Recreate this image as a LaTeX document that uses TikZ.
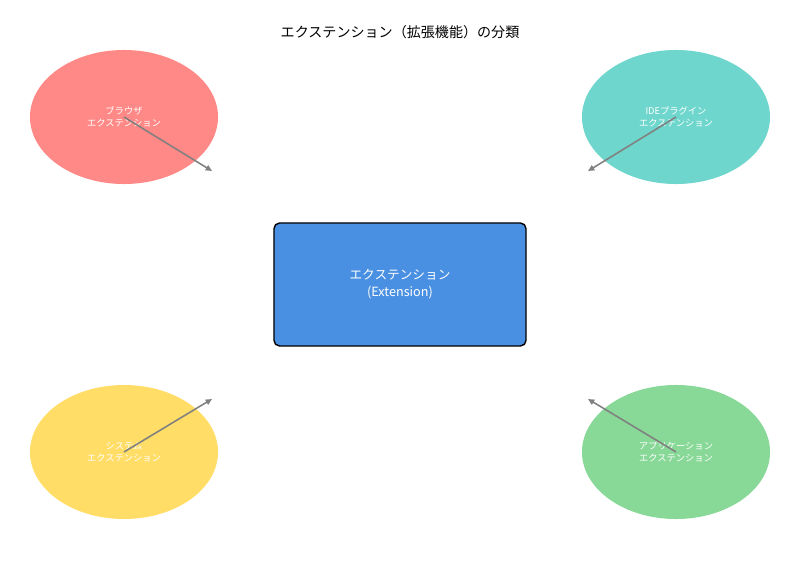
\documentclass[tikz,border=0pt]{standalone}
\usepackage{fontspec}
\setmainfont{Noto Sans CJK JP}
\usetikzlibrary{shapes.geometric,arrows.meta}
\definecolor{browser}{HTML}{FF8986}
\definecolor{ideplug}{HTML}{6ED6CC}
\definecolor{system}{HTML}{FFDD66}
\definecolor{appli}{HTML}{88D897}
\definecolor{extbox}{HTML}{4A90E2}
\tikzset{
  kind/.style={ellipse, draw=none, minimum width=4.7cm, minimum height=3.35cm,
    text=white, align=center, font=\fontsize{6.6}{8.5}\selectfont, inner sep=0pt},
  link/.style={draw=gray, line width=1.1pt, -{Triangle[length=4.5pt,width=4pt]}}
}
\begin{document}
\begin{tikzpicture}[x=0.025cm, y=-0.025cm]
    \useasboundingbox[fill=white] (0, 0) rectangle (800, 570);
    \node[font=\fontsize{10}{12}\selectfont] (title) at (400, 32) {エクステンション（拡張機能）の分類};
    \node[draw=black, line width=1pt, rounded corners=4pt, fill=extbox, text=white,
          minimum width=6.3cm, minimum height=3.075cm, align=center,
          font=\fontsize{9}{12}\selectfont] (ext) at (400, 284.5) {エクステンション\\(Extension)};
    \node[kind, fill=browser] (browser) at (124, 117) {ブラウザ\\エクステンション};
    \node[kind, fill=ideplug] (ide) at (676, 117) {IDEプラグイン\\エクステンション};
    \node[kind, fill=system] (sys) at (124, 452) {システム\\エクステンション};
    \node[kind, fill=appli] (app) at (676, 452) {アプリケーション\\エクステンション};
    \coordinate (tl) at (212, 171);
    \coordinate (tr) at (588, 171);
    \coordinate (bl) at (212, 399);
    \coordinate (br) at (588, 399);
    \draw[link] (browser.center) -- (tl);
    \draw[link] (ide.center) -- (tr);
    \draw[link] (sys.center) -- (bl);
    \draw[link] (app.center) -- (br);
\end{tikzpicture}
\end{document}
